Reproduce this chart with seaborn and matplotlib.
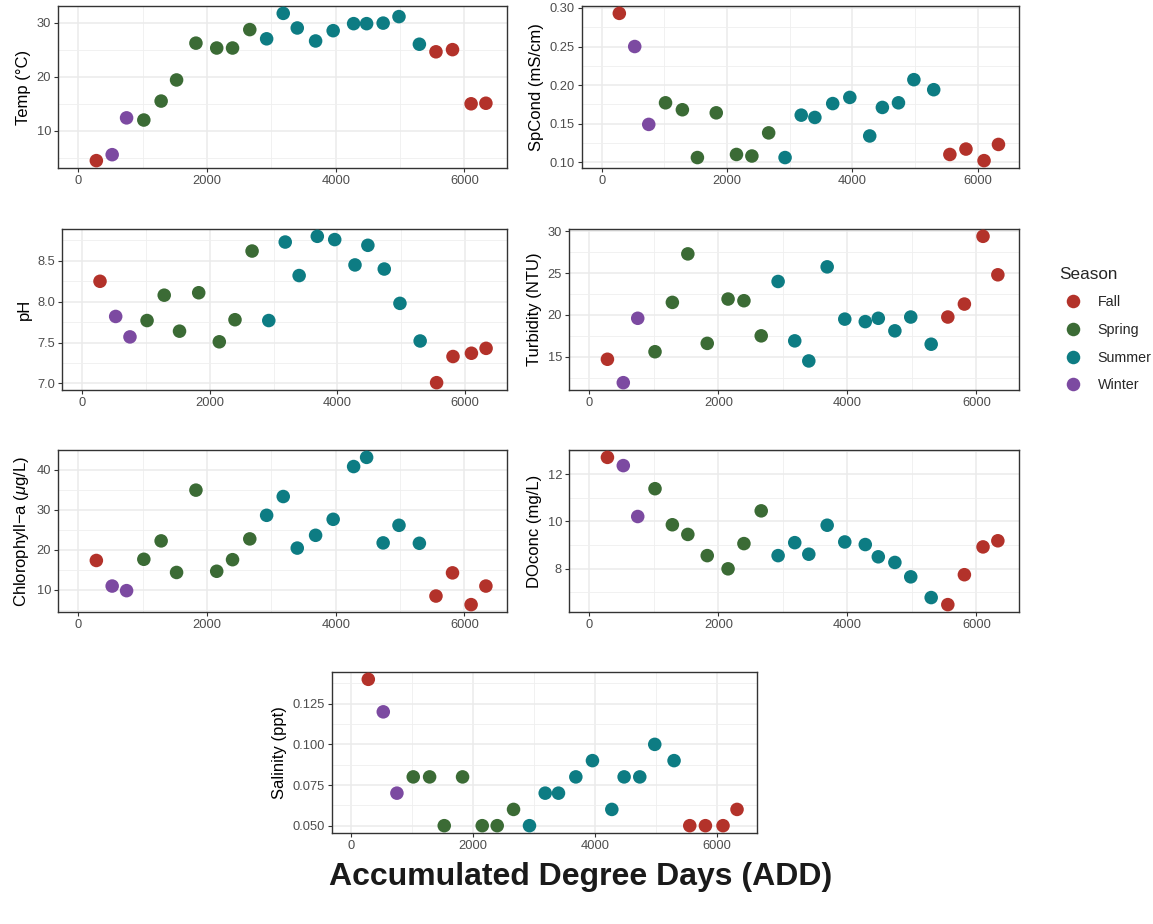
import pandas as pd
import matplotlib
matplotlib.use("Agg")
import matplotlib.pyplot as plt
import matplotlib.ticker as mticker
import seaborn as sns

# -----------------------------------------------------------------------------
# Style
# -----------------------------------------------------------------------------
sns.set_theme(style="white")
plt.rcParams["font.family"] = ["Liberation Sans", "DejaVu Sans"]
plt.rcParams["mathtext.fontset"] = "custom"
plt.rcParams["mathtext.it"] = "Liberation Sans:italic"
plt.rcParams["mathtext.rm"] = "Liberation Sans"

# -----------------------------------------------------------------------------
# Data
# -----------------------------------------------------------------------------
add = [279, 525, 749, 1017, 1286, 1526, 1827, 2150, 2396, 2664, 2926, 3184,
       3402, 3687, 3960, 4278, 4480, 4737, 4983, 5300, 5558, 5815, 6104, 6334]
season = ["Fall", "Winter", "Winter"] + ["Spring"] * 7 + ["Summer"] * 10 + ["Fall"] * 4

temp = [4.5, 5.6, 12.4, 12.0, 15.5, 19.4, 26.2, 25.3, 25.3, 28.7, 27.0, 31.7,
        29.0, 26.6, 28.5, 29.8, 29.8, 29.9, 31.1, 26.0, 24.6, 25.0, 15.0, 15.1]
spcond = [0.293, 0.250, 0.149, 0.177, 0.168, 0.106, 0.164, 0.110, 0.108, 0.138,
          0.106, 0.161, 0.158, 0.176, 0.184, 0.134, 0.171, 0.177, 0.207, 0.194,
          0.110, 0.117, 0.102, 0.123]
ph = [8.25, 7.82, 7.57, 7.77, 8.08, 7.64, 8.11, 7.51, 7.78, 8.62, 7.77, 8.73,
      8.32, 8.80, 8.76, 8.45, 8.69, 8.40, 7.98, 7.52, 7.01, 7.33, 7.37, 7.43]
turbidity = [14.7, 11.9, 19.6, 15.6, 21.5, 27.3, 16.6, 21.9, 21.7, 17.5, 24.0, 16.9,
             14.5, 25.75, 19.5, 19.2, 19.6, 18.1, 19.75, 16.5, 19.75, 21.3, 29.4, 24.8]
chla = [17.3, 10.9, 9.75, 17.6, 22.2, 14.3, 34.9, 14.6, 17.5, 22.7, 28.6, 33.3,
        20.4, 23.6, 27.6, 40.8, 43.1, 21.7, 26.1, 21.6, 8.4, 14.2, 6.25, 10.9]
doconc = [12.72, 12.37, 10.21, 11.39, 9.86, 9.45, 8.55, 7.99, 9.06, 10.45, 8.55, 9.10,
          8.61, 9.84, 9.13, 9.02, 8.50, 8.26, 7.65, 6.77, 6.47, 7.74, 8.92, 9.18]
salinity = [0.14, 0.12, 0.07, 0.08, 0.08, 0.05, 0.08, 0.05, 0.05, 0.06, 0.05, 0.07,
            0.07, 0.08, 0.09, 0.06, 0.08, 0.08, 0.10, 0.09, 0.05, 0.05, 0.05, 0.06]

season_order = ["Fall", "Spring", "Summer", "Winter"]
palette = {"Fall": "#B3322A", "Spring": "#3B6B35", "Summer": "#0D7C83", "Winter": "#7C4AA1"}

df = pd.DataFrame({
    "ADD": add, "Season": season, "Temp": temp, "SpCond": spcond, "pH": ph,
    "Turbidity": turbidity, "Chla": chla, "DOconc": doconc, "Salinity": salinity,
})

# column, y label, major step, minor step, tick format, panel box (px: left, top, right, bottom)
panels = [
    ("Temp", "Temp (°C)", 10, 5, "%d", (58, 6, 507, 168)),
    ("SpCond", "SpCond (mS/cm)", 0.05, 0.025, "%.2f", (582, 6, 1019, 168)),
    ("pH", "pH", 0.5, 0.25, "%.1f", (62, 229, 507, 390)),
    ("Turbidity", "Turbidity (NTU)", 5, 2.5, "%d", (569, 229, 1019, 390)),
    ("Chla", "Chlorophyll\u2212a ($\\mu$g/L)", 10, 5, "%d", (58, 450, 507, 612)),
    ("DOconc", "DOconc (mg/L)", 2, 1, "%d", (569, 450, 1019, 612)),
    ("Salinity", "Salinity (ppt)", 0.025, 0.0125, "%.3f", (332, 672, 757, 833)),
]

# -----------------------------------------------------------------------------
# Plot
# -----------------------------------------------------------------------------
W, H = 1153, 924
fig = plt.figure(figsize=(W / 100, H / 100), dpi=100)

handles, labels = None, None
for i, (col, ylabel, major, minor, fmt, box) in enumerate(panels):
    l, t, r, b = box
    ax = fig.add_axes([l / W, 1 - b / H, (r - l) / W, (b - t) / H])
    sns.scatterplot(
        data=df, x="ADD", y=col, hue="Season", hue_order=season_order,
        palette=palette, s=95, linewidth=0, alpha=1, ax=ax, legend=(i == 0),
        zorder=3,
    )
    if i == 0:
        handles, labels = ax.get_legend_handles_labels()
        ax.get_legend().remove()

    ax.set_xlim(-317, 6662)
    ax.margins(y=0.05)
    ax.xaxis.set_major_locator(mticker.MultipleLocator(2000))
    ax.xaxis.set_minor_locator(mticker.MultipleLocator(1000))
    ax.yaxis.set_major_locator(mticker.MultipleLocator(major))
    ax.yaxis.set_minor_locator(mticker.MultipleLocator(minor))
    ax.yaxis.set_major_formatter(mticker.FormatStrFormatter(fmt))

    ax.grid(which="major", color="#EBEBEB", lw=1.1, zorder=0)
    ax.grid(which="minor", color="#EFEFEF", lw=0.6, zorder=0)
    ax.set_axisbelow(True)
    for sp in ax.spines.values():
        sp.set_color("#333333")
        sp.set_linewidth(1.0)
    ax.tick_params(which="major", direction="out", length=3, width=0.8,
                   color="#333333", labelcolor="#4D4D4D", labelsize=9.3,
                   bottom=True, left=True, pad=2)
    ax.tick_params(which="minor", length=0)
    ax.set_xlabel("")
    ax.set_ylabel(ylabel, fontsize=12, color="black", labelpad=4)

fig.legend(
    handles, labels, title="Season", loc="upper left",
    bbox_to_anchor=(1046 / W, 1 - 254 / H), frameon=False,
    fontsize=10.3, title_fontsize=12.3, labelspacing=0.95,
    handletextpad=0.7, alignment="left",
)

fig.text(581 / W, 1 - 877 / H, "Accumulated Degree Days (ADD)",
         ha="center", va="center", fontsize=23, fontweight="bold", color="#1A1A1A")

fig.savefig("out.png", dpi=100)
